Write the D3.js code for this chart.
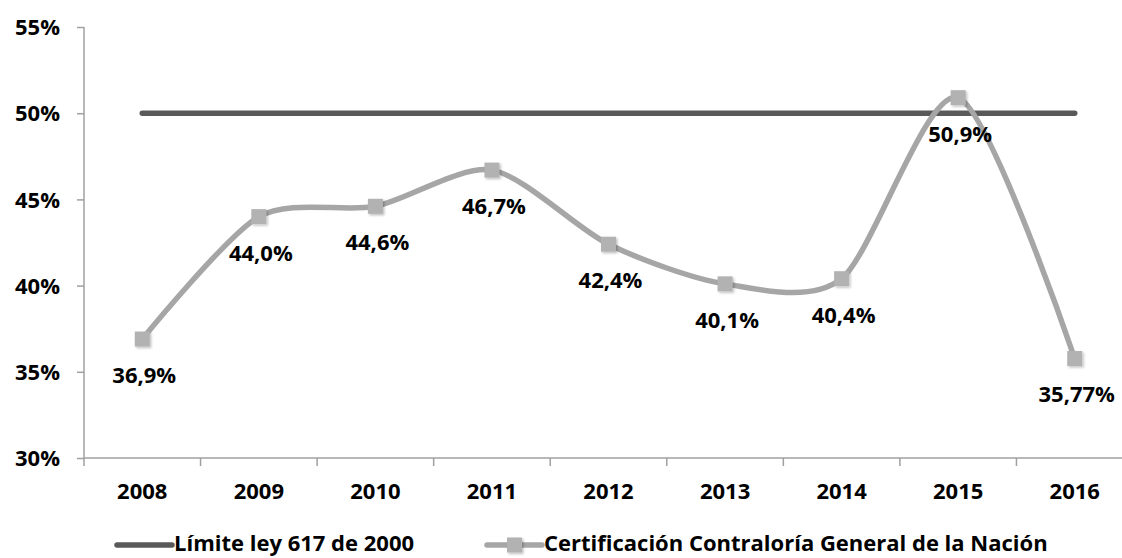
<!doctype html>
<html>
<head>
<meta charset="utf-8">
<script src="https://cdn.jsdelivr.net/npm/d3@7/dist/d3.min.js"></script>
<style>
body { margin: 0; background: #fff; }
text { font-family: "Open Sans", Arial, sans-serif; font-weight: bold; fill: #000; }
</style>
</head>
<body>
<script>
var years = ["2008", "2009", "2010", "2011", "2012", "2013", "2014", "2015", "2016"];
var limite = [50, 50, 50, 50, 50, 50, 50, 50, 50];
var certif = [36.9, 44.0, 44.6, 46.7, 42.4, 40.1, 40.4, 50.9, 35.77];
var certifLabels = ["36,9%", "44,0%", "44,6%", "46,7%", "42,4%", "40,1%", "40,4%", "50,9%", "35,77%"];
var yTicks = [30, 35, 40, 45, 50, 55];
var seriesNames = ["Límite ley 617 de 2000", "Certificación Contraloría General de la Nación"];

var W = 1122, H = 558;
var svg = d3.select("body").append("svg").attr("width", W).attr("height", H);

var x = d3.scaleBand().domain(years).range([84, 1133]);
var y = d3.scaleLinear().domain([30, 55]).range([458, 27]);

// shadow for markers
var defs = svg.append("defs");
var f = defs.append("filter").attr("id", "sh").attr("x", "-50%").attr("y", "-50%").attr("width", "200%").attr("height", "200%");
f.append("feDropShadow").attr("dx", 1.5).attr("dy", 1.5).attr("stdDeviation", 1.2).attr("flood-color", "#000").attr("flood-opacity", 0.25);

// y axis
var yAxis = svg.append("g").attr("transform", "translate(84,0)")
  .call(d3.axisLeft(y).tickValues(yTicks).tickSize(7).tickFormat(d => d + "%"));
yAxis.select(".domain").attr("stroke", "#a0a0a0").attr("stroke-width", 1.5).attr("d", "M0," + y(55) + "V" + y(30));
yAxis.selectAll(".tick line").attr("stroke", "#a0a0a0").attr("stroke-width", 1.5);
yAxis.selectAll(".tick text").attr("x", -24).style("font-size", "22px").attr("dy", "0.35em");

// x axis
var xAxis = svg.append("g").attr("transform", "translate(0," + y(30) + ")")
  .call(d3.axisBottom(x).tickSize(0).tickFormat(d => d));
xAxis.select(".domain").attr("stroke", "#a0a0a0").attr("stroke-width", 1.5).attr("d", "M84,0H1133");
xAxis.selectAll(".tick text").attr("y", 35).attr("dy", "0").style("font-size", "22px").attr("dominant-baseline", "middle");
// category boundary ticks
svg.append("g").selectAll("line").data(years).join("line")
  .attr("x1", d => x(d)).attr("x2", d => x(d))
  .attr("y1", y(30)).attr("y2", y(30) + 8)
  .attr("stroke", "#a0a0a0").attr("stroke-width", 1.5);

var cx = d => x(d) + x.bandwidth() / 2;

// limit line
svg.append("path")
  .datum(years.map((d, i) => [cx(d), y(limite[i])]))
  .attr("d", d3.line())
  .attr("fill", "none").attr("stroke", "#595959").attr("stroke-width", 5.5).attr("stroke-linecap", "round");

// certification line
var pts = years.map((d, i) => [cx(d), y(certif[i])]);
svg.append("path")
  .datum(pts)
  .attr("d", d3.line().curve(d3.curveCardinal.tension(0.2)))
  .attr("fill", "none").attr("stroke", "#a6a6a6").attr("stroke-width", 5.5).attr("stroke-linecap", "round");

svg.append("g").selectAll("rect").data(pts).join("rect")
  .attr("x", d => d[0] - 7.5).attr("y", d => d[1] - 7.5)
  .attr("width", 15).attr("height", 15)
  .attr("fill", "#b2b2b2").attr("filter", "url(#sh)");

svg.append("g").selectAll("text").data(pts).join("text")
  .attr("x", (d, i) => d[0] + 2).attr("y", d => d[1] + 38)
  .attr("text-anchor", "middle").attr("dominant-baseline", "middle")
  .style("font-size", "22px")
  .text((d, i) => certifLabels[i]);

// legend
var ly = 545;
var lg = svg.append("g");
lg.append("line").attr("x1", 117).attr("x2", 172).attr("y1", ly).attr("y2", ly)
  .attr("stroke", "#595959").attr("stroke-width", 5.5).attr("stroke-linecap", "round");
lg.append("text").attr("x", 174).attr("y", ly).attr("dominant-baseline", "middle")
  .style("font-size", "22px").text(seriesNames[0]);
lg.append("line").attr("x1", 487).attr("x2", 542).attr("y1", ly).attr("y2", ly)
  .attr("stroke", "#a6a6a6").attr("stroke-width", 5.5).attr("stroke-linecap", "round");
lg.append("rect").attr("x", 507).attr("y", ly - 7.5).attr("width", 15).attr("height", 15)
  .attr("fill", "#b2b2b2").attr("filter", "url(#sh)");
lg.append("text").attr("x", 544).attr("y", ly).attr("dominant-baseline", "middle")
  .style("font-size", "22px").text(seriesNames[1]);
</script>
</body>
</html>
